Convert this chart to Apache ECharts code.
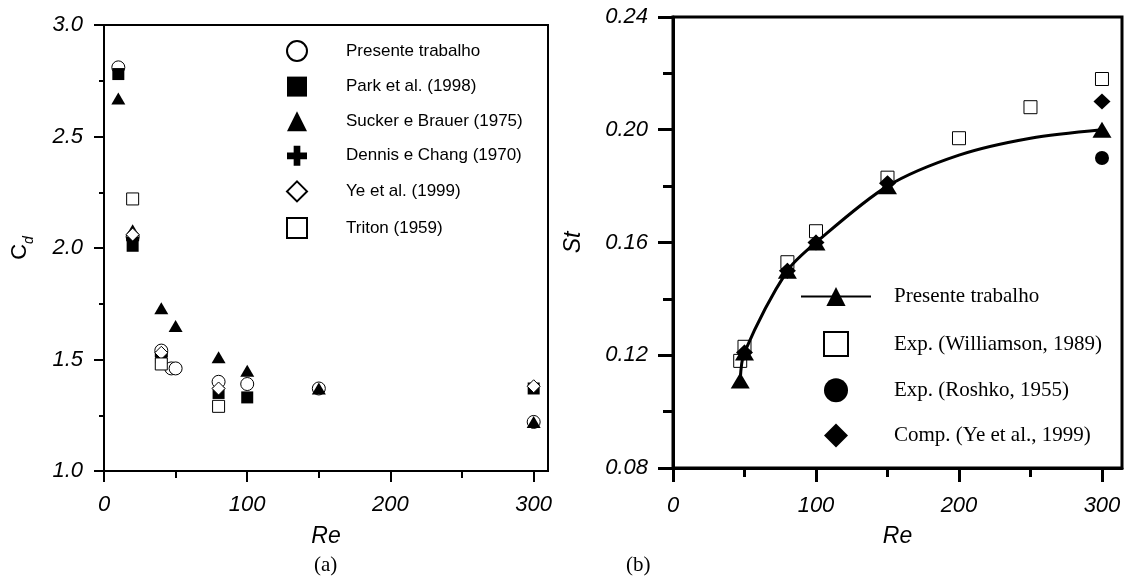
<!DOCTYPE html>
<html><head><meta charset="utf-8">
<script src="https://cdn.jsdelivr.net/npm/echarts@6/dist/echarts.min.js"></script>
<style>html,body{margin:0;padding:0;background:#fff}#c{width:1128px;height:580px}</style>
</head><body><div id="c"></div><script>
// ---- Panel (a): Cd vs Re ----
const cdPresenteRe = [10, 20, 40, 47, 50, 80, 100, 150, 300];
const cdPresente   = [2.81, 2.05, 1.54, 1.46, 1.46, 1.40, 1.39, 1.37, 1.22];
const cdParkRe = [10, 20, 40, 80, 100, 300];
const cdPark   = [2.78, 2.01, 1.51, 1.35, 1.33, 1.37];
const cdSuckerRe = [10, 20, 40, 50, 80, 100, 150, 300];
const cdSucker   = [2.67, 2.08, 1.73, 1.65, 1.51, 1.45, 1.37, 1.22];
const cdDennisRe = [20, 40];
const cdDennis   = [2.04, 1.52];
const cdYeRe = [20, 40, 80, 300];
const cdYe   = [2.06, 1.53, 1.37, 1.38];
const cdTritonRe = [20, 40, 80];
const cdTriton   = [2.22, 1.48, 1.29];

// ---- Panel (b): St vs Re ----
const stPresenteRe = [47, 50, 80, 100, 150, 200, 250, 300];
const stPresente   = [0.111, 0.121, 0.150, 0.160, 0.180, 0.191, 0.197, 0.200];
const stPresenteMarked = [true, true, true, true, true, false, false, true];
const stWilliamsonRe = [47, 50, 80, 100, 150, 200, 250, 300];
const stWilliamson   = [0.118, 0.123, 0.153, 0.164, 0.183, 0.197, 0.208, 0.218];
const stRoshkoRe = [300];
const stRoshko   = [0.190];
const stYeRe = [50, 80, 100, 150, 300];
const stYe   = [0.121, 0.150, 0.160, 0.181, 0.210];

const xMajorTicks = [0, 100, 200, 300];
const xMinorTicks = [50, 150, 250];
const legendA = ['Presente trabalho', 'Park et al. (1998)', 'Sucker e Brauer (1975)', 'Dennis e Chang (1970)', 'Ye et al. (1999)', 'Triton (1959)'];
const legendBLine = ['Presente trabalho (b)'];
const legendBMarks = ['Exp. (Williamson, 1989)', 'Exp. (Roshko, 1955)', 'Comp. (Ye et al., 1999)'];

const zip = (xs, ys) => xs.map((x, i) => [x, ys[i]]);
const SANS = 'Liberation Sans, Arial, sans-serif';
const SERIF = 'Liberation Serif, Times New Roman, serif';
const PLUS = 'path://M10,0H20V10H30V20H20V30H10V20H0V10H10Z';
const openStyle = { color: '#fff', borderColor: '#000', borderWidth: 1, opacity: 1 };
const fillStyle = { color: '#000', opacity: 1 };

function xMain(grid, max, w, len, margin, nameGap) {
  return {
    gridIndex: grid, type: 'value', min: 0, max: max, position: 'bottom',
    axisLine: { lineStyle: { color: '#000', width: w } },
    axisTick: { customValues: xMajorTicks, length: len, lineStyle: { color: '#000', width: w } },
    axisLabel: { customValues: xMajorTicks, margin: margin, color: '#000', fontSize: 22, fontStyle: 'italic', fontFamily: SANS },
    splitLine: { show: false },
    name: 'Re', nameLocation: 'middle', nameGap: nameGap,
    nameTextStyle: { color: '#000', fontSize: 23, fontStyle: 'italic', fontFamily: SANS }
  };
}
function xMinor(grid, max, w, len) {
  return {
    gridIndex: grid, type: 'value', min: 0, max: max, position: 'bottom',
    axisLine: { show: false }, axisLabel: { show: false }, splitLine: { show: false },
    axisTick: { customValues: xMinorTicks, length: len, lineStyle: { color: '#000', width: w } }
  };
}

const chart = echarts.init(document.getElementById('c'), null, { renderer: 'canvas' });
chart.setOption({
  animation: false,
  backgroundColor: '#fff',
  grid: [
    { left: 104, top: 25, width: 444, height: 446, show: true, borderColor: '#000', borderWidth: 2, containLabel: false },
    { left: 673, top: 17, width: 449, height: 451, show: true, borderColor: '#000', borderWidth: 3, containLabel: false }
  ],
  xAxis: [
    xMain(0, 310, 2, 11, 23, 54),
    xMinor(0, 310, 2, 7),
    xMain(1, 314, 3, 14, 27, 57),
    xMinor(1, 314, 3, 9)
  ],
  yAxis: [
    {
      gridIndex: 0, type: 'value', min: 1, max: 3, interval: 0.5,
      axisLine: { lineStyle: { color: '#000', width: 2 } },
      axisTick: { length: 10, lineStyle: { color: '#000', width: 2 } },
      minorTick: { show: true, splitNumber: 2, length: 5, lineStyle: { color: '#000', width: 2 } },
      axisLabel: { margin: 21, color: '#000', fontSize: 22, fontStyle: 'italic', fontFamily: SANS, formatter: v => v.toFixed(1) },
      splitLine: { show: false },
      name: '{c|C}{d|d}', nameLocation: 'middle', nameGap: 68,
      nameTextStyle: { color: '#000', fontFamily: SANS,
        rich: { c: { fontSize: 22, fontFamily: SANS, color: '#000', padding: [0, 0, 5, 0], verticalAlign: 'bottom' },
                d: { fontSize: 14, fontFamily: SANS, fontStyle: 'italic', color: '#000', verticalAlign: 'bottom' } } }
    },
    {
      gridIndex: 1, type: 'value', min: 0.08, max: 0.24, interval: 0.04,
      axisLine: { lineStyle: { color: '#000', width: 3 } },
      axisTick: { length: 15, lineStyle: { color: '#000', width: 3 } },
      minorTick: { show: true, splitNumber: 2, length: 10, lineStyle: { color: '#000', width: 3 } },
      axisLabel: { margin: 25, color: '#000', fontSize: 22, fontStyle: 'italic', fontFamily: SANS, formatter: v => v.toFixed(2) },
      splitLine: { show: false },
      name: 'St', nameLocation: 'middle', nameGap: 88,
      nameTextStyle: { color: '#000', fontSize: 23, fontStyle: 'italic', fontFamily: SANS }
    }
  ],
  legend: [
    {
      data: legendA, orient: 'vertical', left: 286, top: 40, padding: 0,
      itemWidth: 20, itemHeight: 20, itemGap: 14.6, selectedMode: false,
      textStyle: { color: '#000', fontSize: 17, fontFamily: SANS, padding: [0, 0, 0, 34] }
    },
    {
      data: legendBLine, orient: 'vertical', left: 800, top: 286, padding: 0,
      itemWidth: 70, itemHeight: 24, selectedMode: false,
      formatter: n => n.replace(' (b)', ''),
      textStyle: { color: '#000', fontSize: 21, fontFamily: SERIF, padding: [0, 0, 0, 18] }
    },
    {
      data: legendBMarks, orient: 'vertical', left: 823, top: 331, padding: 0,
      itemWidth: 24, itemHeight: 24, itemGap: 21.3, selectedMode: false,
      textStyle: { color: '#000', fontSize: 21, fontFamily: SERIF, padding: [0, 0, 0, 41] }
    }
  ],
  graphic: [
    { type: 'text', left: 314, top: 555, style: { text: '(a)', fontSize: 21, fontFamily: SERIF, fill: '#000' } },
    { type: 'text', left: 626, top: 555, style: { text: '(b)', fontSize: 21, fontFamily: SERIF, fill: '#000' } }
  ],
  series: [
    { name: 'Presente trabalho', type: 'scatter', xAxisIndex: 0, yAxisIndex: 0, symbol: 'circle', symbolSize: 13, itemStyle: openStyle, data: zip(cdPresenteRe, cdPresente) },
    { name: 'Park et al. (1998)', type: 'scatter', xAxisIndex: 0, yAxisIndex: 0, symbol: 'rect', symbolSize: 12, itemStyle: fillStyle, data: zip(cdParkRe, cdPark) },
    { name: 'Sucker e Brauer (1975)', type: 'scatter', xAxisIndex: 0, yAxisIndex: 0, symbol: 'triangle', symbolSize: [14, 12], itemStyle: fillStyle, data: zip(cdSuckerRe, cdSucker) },
    { name: 'Dennis e Chang (1970)', type: 'scatter', xAxisIndex: 0, yAxisIndex: 0, symbol: PLUS, symbolSize: 13, itemStyle: fillStyle, data: zip(cdDennisRe, cdDennis) },
    { name: 'Ye et al. (1999)', type: 'scatter', xAxisIndex: 0, yAxisIndex: 0, symbol: 'diamond', symbolSize: 13, itemStyle: openStyle, data: zip(cdYeRe, cdYe) },
    { name: 'Triton (1959)', type: 'scatter', xAxisIndex: 0, yAxisIndex: 0, symbol: 'rect', symbolSize: 12, itemStyle: openStyle, data: zip(cdTritonRe, cdTriton) },

    { name: 'Exp. (Williamson, 1989)', type: 'scatter', xAxisIndex: 2, yAxisIndex: 1, symbol: 'rect', symbolSize: 13, itemStyle: openStyle, data: zip(stWilliamsonRe, stWilliamson) },
    { name: 'Exp. (Roshko, 1955)', type: 'scatter', xAxisIndex: 2, yAxisIndex: 1, symbol: 'circle', symbolSize: 14, itemStyle: fillStyle, data: zip(stRoshkoRe, stRoshko) },
    { name: 'Comp. (Ye et al., 1999)', type: 'scatter', xAxisIndex: 2, yAxisIndex: 1, symbol: 'diamond', symbolSize: [17, 16], itemStyle: fillStyle, data: zip(stYeRe, stYe) },
    { name: 'Presente trabalho (b)', type: 'line', xAxisIndex: 2, yAxisIndex: 1, smooth: 0.3,
      symbol: 'triangle', symbolSize: [19, 16], showSymbol: true, showAllSymbol: true,
      itemStyle: { color: '#000', opacity: 1 }, lineStyle: { color: '#000', width: 3 },
      data: stPresenteRe.map((x, i) => stPresenteMarked[i] ? { value: [x, stPresente[i]] } : { value: [x, stPresente[i]], symbol: 'none' }) }
  ]
});
</script></body></html>
